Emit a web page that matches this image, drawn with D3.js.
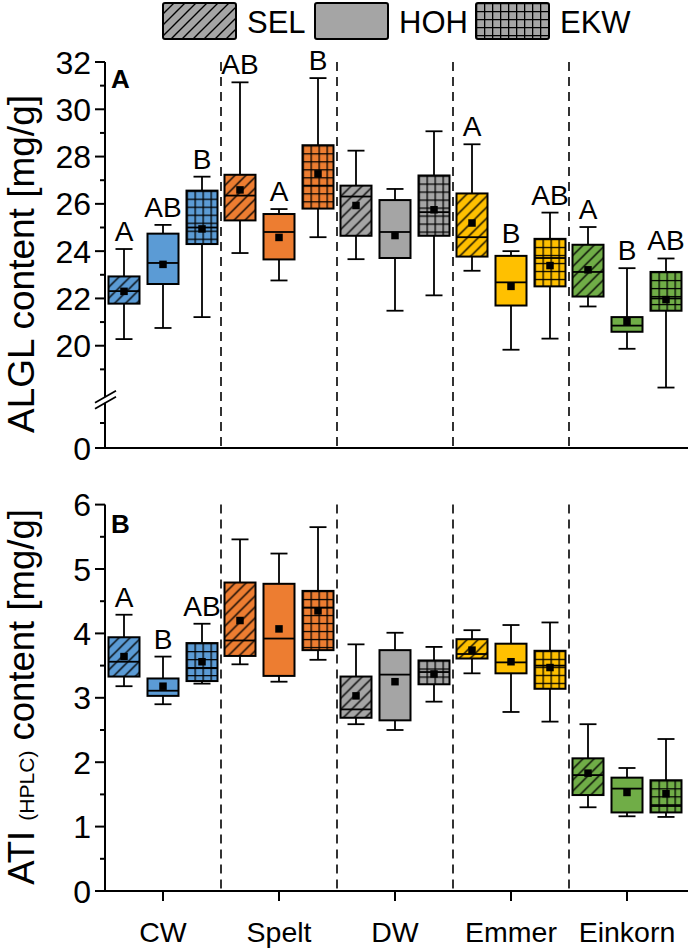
<!DOCTYPE html>
<html><head><meta charset="utf-8">
<script src="https://cdn.jsdelivr.net/npm/d3@7"></script>
<style>
html,body{margin:0;padding:0;background:#fff;}
svg{display:block;font-family:"Liberation Sans",Arial,sans-serif;}
</style></head>
<body>
<svg id="chart" width="688" height="950"></svg>
<script>
// ---------- data ----------
const groups = ["CW", "Spelt", "DW", "Emmer", "Einkorn"];
const series = ["SEL", "HOH", "EKW"];
const groupColors = ["#5b9bd5", "#ed7d31", "#a5a5a5", "#ffc000", "#70ad47"];

// Panel A: ALGL content [mg/g], order: group x series
const algLow  = [20.28, 20.75, 21.21, 23.92, 22.76, 24.59, 23.66, 21.48, 22.13, 23.17, 19.83, 20.30, 21.66, 19.87, 18.23];
const algQ1   = [21.78, 22.61, 24.30, 25.30, 23.65, 25.80, 24.65, 23.71, 24.65, 23.77, 21.70, 22.51, 22.08, 20.59, 21.48];
const algMed  = [22.31, 23.50, 25.00, 26.35, 24.81, 26.77, 26.31, 24.81, 25.65, 24.59, 22.68, 23.71, 23.12, 20.85, 22.00];
const algQ3   = [22.93, 24.74, 26.56, 27.23, 25.57, 28.48, 26.77, 26.16, 27.20, 26.44, 23.80, 24.52, 24.27, 21.21, 23.12];
const algHigh = [24.09, 25.11, 27.15, 31.14, 25.78, 31.32, 28.25, 26.63, 29.07, 28.52, 24.00, 25.63, 25.02, 23.28, 23.69];
const algMean = [22.30, 23.44, 24.94, 26.59, 24.58, 27.27, 25.93, 24.66, 25.75, 25.19, 22.51, 23.39, 23.21, 21.03, 21.95];
const algLetters = ["A", "AB", "B", "AB", "A", "B", "", "", "", "A", "B", "AB", "A", "B", "AB"];

// Panel B: ATI (HPLC) content [mg/g]
const atiLow  = [3.18, 2.90, 3.22, 3.52, 3.25, 3.59, 2.59, 2.50, 2.94, 3.38, 2.78, 2.63, 1.30, 1.16, 1.15];
const atiQ1   = [3.33, 3.03, 3.26, 3.65, 3.34, 3.74, 2.69, 2.65, 3.21, 3.61, 3.38, 3.14, 1.49, 1.22, 1.22];
const atiMed  = [3.56, 3.11, 3.46, 3.89, 3.92, 4.40, 2.82, 3.36, 3.40, 3.68, 3.55, 3.50, 1.80, 1.59, 1.32];
const atiQ3   = [3.94, 3.30, 3.85, 4.79, 4.77, 4.66, 3.33, 3.74, 3.58, 3.91, 3.84, 3.73, 2.06, 1.76, 1.72];
const atiHigh = [4.29, 3.64, 4.15, 5.46, 5.24, 5.65, 3.83, 4.01, 3.79, 4.05, 4.13, 4.17, 2.59, 1.91, 2.36];
const atiMean = [3.64, 3.18, 3.56, 4.20, 4.07, 4.35, 3.03, 3.25, 3.37, 3.74, 3.56, 3.47, 1.83, 1.53, 1.51];
const atiLetters = ["A", "B", "AB", "", "", "", "", "", "", "", "", "", "", "", ""];

const algMajorTicks = [0, 20, 22, 24, 26, 28, 30, 32];
const algMinorTicks = [5, 19, 21, 23, 25, 27, 29, 31];
const atiMajorTicks = [0, 1, 2, 3, 4, 5, 6];
const atiMinorTicks = [0.5, 1.5, 2.5, 3.5, 4.5, 5.5];

// ---------- layout ----------
const svg = d3.select("#chart");
const defs = svg.append("defs");
const left = 105, right = 685;
const xGroup = d3.scaleBand().domain(groups).range([left, right]).padding(0);
const xSeries = d3.scalePoint().domain(series).range([-39, 39]);
const boxW = 31, capW = 17;

const yA = d3.scaleLinear().domain([0, 10, 18, 32]).range([448, 398, 393, 62]);
const yB = d3.scaleLinear().domain([0, 6]).range([891, 504.6]);

function rows(lo, q1, med, q3, hi, mean, letters) {
  const out = [];
  groups.forEach((g, gi) => series.forEach((s, si) => {
    const i = gi * 3 + si;
    out.push({g, gi, s, si, i, lo: lo[i], q1: q1[i], med: med[i], q3: q3[i], hi: hi[i], mean: mean[i], letter: letters[i]});
  }));
  return out;
}

function makePattern(id, kind, color, x0, y0) {
  if (kind === "HOH") return color;
  const size = kind === "SEL" ? 11 : 8;
  const p = defs.append("pattern").attr("id", id)
    .attr("patternUnits", "userSpaceOnUse")
    .attr("x", x0).attr("y", y0)
    .attr("width", size).attr("height", size);
  p.append("rect").attr("width", size).attr("height", size).attr("fill", color);
  if (kind === "SEL") {
    p.append("path")
      .attr("d", `M${-size/2},${size/2} L${size/2},${-size/2} M0,${size} L${size},0 M${size/2},${size*1.5} L${size*1.5},${size/2}`)
      .attr("stroke", "#000").attr("stroke-width", 1.4);
  } else {
    p.append("path")
      .attr("d", `M0,0.6 H${size} M0.6,0 V${size}`)
      .attr("stroke", "#000").attr("stroke-width", 1.4);
  }
  return `url(#${id})`;
}

function drawPanel(name, y, data, majors, minors, topY, bottomY, isB) {
  const g = svg.append("g");
  // dashed separators
  g.selectAll("line.sep").data(groups.slice(1)).join("line")
    .attr("x1", d => xGroup(d)).attr("x2", d => xGroup(d))
    .attr("y1", topY).attr("y2", bottomY)
    .attr("stroke", "#000").attr("stroke-width", 1.6).attr("stroke-dasharray", "9,6");

  // boxes
  data.forEach(d => {
    const cx = xGroup(d.g) + xGroup.bandwidth() / 2 + xSeries(d.s);
    const bx = cx - boxW / 2, by = y(d.q3);
    const fill = makePattern(`p${name}${d.i}`, d.s, groupColors[d.gi], bx, by);
    const bg = g.append("g");
    bg.append("line").attr("x1", cx).attr("x2", cx).attr("y1", y(d.hi)).attr("y2", y(d.q3))
      .attr("stroke", "#000").attr("stroke-width", 1.8);
    bg.append("line").attr("x1", cx).attr("x2", cx).attr("y1", y(d.q1)).attr("y2", y(d.lo))
      .attr("stroke", "#000").attr("stroke-width", 1.8);
    bg.append("line").attr("x1", cx - capW / 2).attr("x2", cx + capW / 2).attr("y1", y(d.hi)).attr("y2", y(d.hi))
      .attr("stroke", "#000").attr("stroke-width", 1.8);
    bg.append("line").attr("x1", cx - capW / 2).attr("x2", cx + capW / 2).attr("y1", y(d.lo)).attr("y2", y(d.lo))
      .attr("stroke", "#000").attr("stroke-width", 1.8);
    bg.append("rect").attr("x", bx).attr("y", by).attr("width", boxW).attr("height", y(d.q1) - y(d.q3))
      .attr("fill", fill).attr("stroke", "#000").attr("stroke-width", 2);
    bg.append("line").attr("x1", bx).attr("x2", bx + boxW).attr("y1", y(d.med)).attr("y2", y(d.med))
      .attr("stroke", "#000").attr("stroke-width", 1.8);
    bg.append("rect").attr("x", cx - 3.75).attr("y", y(d.mean) - 3.75).attr("width", 7.5).attr("height", 7.5).attr("fill", "#000");
    if (d.letter) {
      bg.append("text").attr("x", cx).attr("y", y(d.hi) - 8)
        .attr("text-anchor", "middle").attr("font-size", 28).text(d.letter);
    }
  });

  // left axis
  g.append("line").attr("x1", left).attr("x2", left).attr("y1", topY).attr("y2", bottomY)
    .attr("stroke", "#000").attr("stroke-width", 2);
  g.selectAll("line.maj").data(majors).join("line")
    .attr("x1", left - 10).attr("x2", left).attr("y1", d => y(d)).attr("y2", d => y(d))
    .attr("stroke", "#000").attr("stroke-width", 2);
  g.selectAll("line.min").data(minors).join("line")
    .attr("x1", left - 5).attr("x2", left).attr("y1", d => y(d)).attr("y2", d => y(d))
    .attr("stroke", "#000").attr("stroke-width", 2);
  g.selectAll("text.tick").data(majors).join("text")
    .attr("x", left - 14).attr("y", d => y(d)).attr("dy", "0.36em")
    .attr("text-anchor", "end").attr("font-size", 32).text(d => d);
  // bottom axis
  g.append("line").attr("x1", left - 1).attr("x2", right + 3).attr("y1", bottomY).attr("y2", bottomY)
    .attr("stroke", "#000").attr("stroke-width", 2);
  if (isB) {
    g.selectAll("line.xt").data(groups).join("line")
      .attr("x1", d => xGroup(d) + xGroup.bandwidth() / 2).attr("x2", d => xGroup(d) + xGroup.bandwidth() / 2)
      .attr("y1", bottomY).attr("y2", bottomY + 10)
      .attr("stroke", "#000").attr("stroke-width", 2);
    g.selectAll("text.xl").data(groups).join("text")
      .attr("x", d => xGroup(d) + xGroup.bandwidth() / 2).attr("y", 942)
      .attr("text-anchor", "middle").attr("font-size", 28.5).text(d => d);
  }
  return g;
}

const dataA = rows(algLow, algQ1, algMed, algQ3, algHigh, algMean, algLetters);
const dataB = rows(atiLow, atiQ1, atiMed, atiQ3, atiHigh, atiMean, atiLetters);

const gA = drawPanel("A", yA, dataA, algMajorTicks, algMinorTicks, yA(32), yA(0), false);
drawPanel("B", yB, dataB, atiMajorTicks, atiMinorTicks, yB(6), yB(0), true);

// axis break on panel A
const brk = yA(10.3);
gA.append("polygon")
  .attr("points", `${left-9},${brk+5} ${left+10},${brk-6} ${left+10},${brk-1} ${left-9},${brk+10}`)
  .attr("fill", "#fff");
gA.append("line").attr("x1", left - 10).attr("y1", brk + 5).attr("x2", left + 11).attr("y2", brk - 7)
  .attr("stroke", "#000").attr("stroke-width", 1.8);
gA.append("line").attr("x1", left - 10).attr("y1", brk + 11).attr("x2", left + 11).attr("y2", brk - 1)
  .attr("stroke", "#000").attr("stroke-width", 1.8);

// panel labels
svg.append("text").attr("x", 111).attr("y", 88).attr("font-size", 26).attr("font-weight", "bold").text("A");
svg.append("text").attr("x", 111).attr("y", 533).attr("font-size", 26).attr("font-weight", "bold").text("B");

// y titles
svg.append("text").attr("transform", "translate(34,264) rotate(-90)")
  .attr("text-anchor", "middle").attr("font-size", 37).text("ALGL content [mg/g]");
const tB = svg.append("text").attr("transform", "translate(34,697) rotate(-90)")
  .attr("text-anchor", "middle").attr("font-size", 36.5);
tB.append("tspan").text("ATI ");
tB.append("tspan").attr("font-size", 21).text("(HPLC)");
tB.append("tspan").text(" content [mg/g]");

// legend
const legX = [163, 315, 476];
series.forEach((s, i) => {
  const x = legX[i];
  const fill = makePattern(`leg${i}`, s, "#a5a5a5", x, 3);
  svg.append("rect").attr("x", x).attr("y", 3).attr("width", 73).attr("height", 36).attr("rx", 2)
    .attr("fill", fill).attr("stroke", "#000").attr("stroke-width", 2);
  svg.append("text").attr("x", x + 84).attr("y", 33).attr("font-size", 31).text(s);
});
</script>
</body></html>
